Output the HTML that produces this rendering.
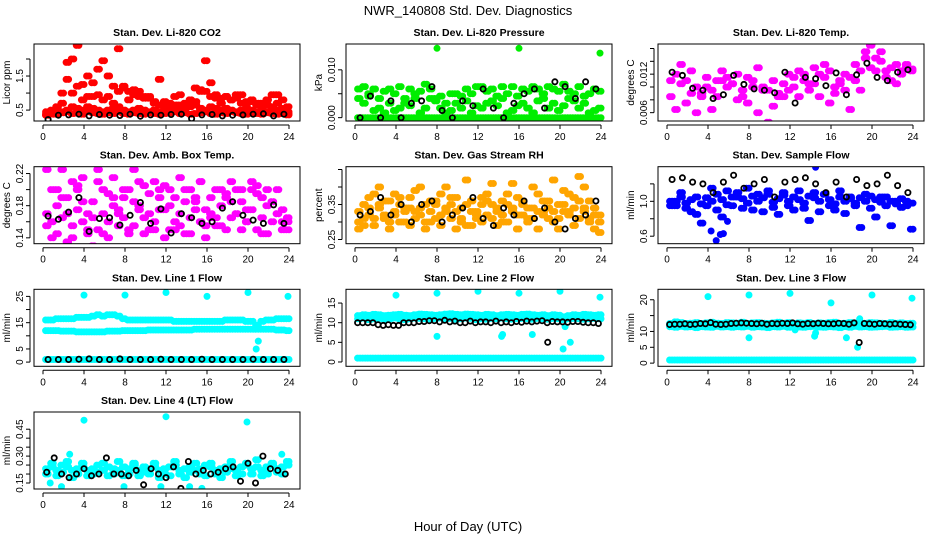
<!DOCTYPE html>
<html><head><meta charset="utf-8"><style>
body{margin:0;background:#fff;}
svg{display:block;font-family:"Liberation Sans",Arial,sans-serif;}
</style></head><body>
<svg id="chart" width="936" height="540" viewBox="0 0 936 540" xmlns="http://www.w3.org/2000/svg">
<rect width="936" height="540" fill="#fff"/>
<text x="468" y="15" font-size="13" text-anchor="middle">NWR_140808 Std. Dev. Diagnostics</text>
<text x="468" y="531" font-size="13" text-anchor="middle">Hour of Day (UTC)</text>
</svg>
<script>
// ---- data ----
const co2A=[0.4,0.38,0.42,0.45,0.5,0.6,0.55,0.5,0.6,0.55,0.5,0.45,0.5,0.55,0.6,0.5,0.45,0.5,0.55,0.5,0.45,0.5,0.45,0.5,0.55,0.6,0.5,0.55,0.6,0.65,0.55,0.5,0.6,0.55,0.5,0.55,0.5,0.45,0.5,0.55,0.5,0.45,0.5,0.45,0.55,0.5,0.45,0.4];
const co2B=[0.45,0.4,0.5,0.7,1.4,1.0,1.2,0.8,0.9,0.9,0.95,0.8,0.9,0.7,1.05,1.2,0.8,1.1,0.9,0.85,0.9,0.75,1.4,0.75,0.7,0.65,0.95,0.7,0.8,0.75,1.1,1.05,0.9,0.85,0.7,0.9,0.8,0.95,0.7,0.75,0.8,0.7,0.7,0.65,0.6,0.95,0.8,0.6];
const co2C=[0.35,0.5,0.6,1.0,1.9,2.0,2.4,1.25,1.5,1.3,1.7,1.95,1.5,1.2,2.3,1.15,1.05,0.95,1.05,0.9,0.85,0.7,0.65,0.6,0.55,0.9,0.65,0.6,0.7,1.15,1.05,1.95,1.3,0.95,0.85,0.9,0.8,0.85,0.95,0.7,0.75,0.65,0.6,0.8,0.95,0.7,0.55,0.45];
const co2D=[0.35,0.4,0.38,0.42,0.45,0.4,0.42,0.38,0.45,0.42,0.4,0.38,0.42,0.4,0.45,0.4,0.38,0.42,0.4,0.38,0.42,0.4,0.38,0.4,0.42,0.45,0.4,0.42,0.38,0.4,0.42,0.45,0.4,0.38,0.42,0.4,0.45,0.42,0.4,0.38,0.42,0.4,0.38,0.42,0.4,0.38,0.4,0.36];
const co2K=[0.22,0.35,0.36,0.38,0.33,0.37,0.35,0.34,0.38,0.32,0.36,0.35,0.37,0.38,0.25,0.36,0.37,0.33,0.35,0.36,0.38,0.39,0.33,0.38];

const prZ=[0,0,0,0,0,0,0,0,0,0,0,0,0,0,0,0,0,0,0,0,0,0,0,0,0,0,0,0,0,0,0,0,0,0,0,0,0,0,0,0,0,0,0,0,0,0,0,0];
const prA=[0.006,0.0065,0.005,0.006,0.004,0.0055,0.006,0.005,0.0065,0.004,0.006,0.005,0.0055,0.007,0.006,0.004,0.0045,0.003,0.005,0.005,0.0045,0.006,0.005,0.0065,0.0065,0.0055,0.006,0.0045,0.0065,0.005,0.0065,0.0045,0.006,0.0055,0.0065,0.006,0.005,0.0065,0.006,0.0055,0.007,0.0055,0.005,0.0065,0.0045,0.005,0.006,0.0055];
const prB=[0.004,0.003,0.0045,0.0015,0.002,0.001,0.003,0.0015,0.002,0.003,0.0025,0.004,0.001,0.002,0.004,0.0035,0.002,0.001,0.0015,0.003,0.002,0.0035,0.001,0.0025,0.002,0.003,0.0035,0.0025,0.004,0.001,0.0015,0.0025,0.003,0.002,0.001,0.0035,0.004,0.002,0.003,0.0015,0.0025,0.004,0.0035,0.002,0.003,0.001,0.0015,0.002];
const prOutH=[8,16,23.9];
const prOutV=[0.0145,0.0145,0.0135];
const prK=[0,0.0045,0,0.0035,0,0.003,0.0035,0.0065,0.0015,0,0.0035,0.0025,0.006,0.002,0,0.003,0.005,0.006,0.002,0.0075,0.0065,0.004,0.0075,0.006];

const tpA=[0.011,0.012,0.0105,0.011,0.0125,0.010,0.009,0.0115,0.0095,0.011,0.0125,0.010,0.0105,0.012,0.0095,0.0115,0.011,0.013,0.010,0.0095,0.011,0.0085,0.0105,0.012,0.0115,0.0125,0.011,0.0105,0.013,0.012,0.0115,0.0125,0.010,0.011,0.012,0.0115,0.0135,0.0125,0.0145,0.013,0.0125,0.014,0.0125,0.013,0.0135,0.0125,0.013,0.0128];
const tpB=[0.0085,0.0065,0.0135,0.0075,0.009,0.006,0.0085,0.010,0.0065,0.0085,0.011,0.0115,0.0105,0.008,0.0085,0.0075,0.010,0.006,0.0095,0.0045,0.007,0.009,0.0085,0.0095,0.010,0.0085,0.012,0.0095,0.0105,0.0085,0.0135,0.0075,0.009,0.0105,0.0095,0.0065,0.011,0.0095,0.0155,0.0165,0.0145,0.0155,0.0115,0.011,0.0105,0.012,0.0135,0.0125];
const tpK=[0.0123,0.0118,0.0098,0.0095,0.0082,0.0088,0.0118,0.0104,0.0097,0.0095,0.0091,0.0123,0.0075,0.0115,0.0113,0.0102,0.0122,0.0088,0.0119,0.0137,0.0115,0.011,0.0123,0.0127];

const abA=[0.17,0.16,0.18,0.165,0.19,0.155,0.175,0.16,0.17,0.185,0.15,0.17,0.16,0.19,0.175,0.165,0.2,0.155,0.18,0.165,0.17,0.16,0.19,0.175,0.18,0.15,0.17,0.185,0.165,0.19,0.16,0.175,0.17,0.155,0.18,0.19,0.165,0.17,0.185,0.16,0.175,0.195,0.165,0.18,0.16,0.17,0.175,0.165];
const abB=[0.155,0.2,0.145,0.19,0.17,0.14,0.2,0.185,0.15,0.165,0.21,0.145,0.195,0.18,0.155,0.2,0.15,0.185,0.21,0.145,0.195,0.15,0.175,0.205,0.15,0.19,0.155,0.2,0.145,0.175,0.21,0.155,0.19,0.165,0.2,0.15,0.185,0.2,0.15,0.175,0.2,0.15,0.19,0.145,0.185,0.2,0.16,0.15];
const abC=[0.225,0.14,0.2,0.225,0.135,0.21,0.205,0.215,0.145,0.13,0.225,0.2,0.14,0.215,0.17,0.19,0.145,0.225,0.175,0.205,0.15,0.21,0.2,0.14,0.2,0.16,0.215,0.145,0.2,0.185,0.21,0.14,0.165,0.2,0.155,0.195,0.21,0.17,0.2,0.16,0.21,0.205,0.145,0.2,0.185,0.17,0.15,0.16];
const abK=[0.167,0.163,0.172,0.19,0.148,0.164,0.165,0.156,0.168,0.184,0.158,0.176,0.146,0.17,0.165,0.158,0.16,0.177,0.185,0.168,0.162,0.158,0.181,0.158];

const rhA=[0.30,0.35,0.32,0.38,0.34,0.31,0.36,0.33,0.37,0.30,0.34,0.39,0.32,0.35,0.30,0.36,0.38,0.33,0.31,0.37,0.34,0.29,0.36,0.32,0.35,0.38,0.31,0.34,0.36,0.30,0.33,0.37,0.35,0.31,0.34,0.38,0.32,0.36,0.30,0.35,0.39,0.33,0.37,0.31,0.34,0.36,0.32,0.30];
const rhB=[0.28,0.31,0.37,0.29,0.40,0.32,0.28,0.38,0.30,0.34,0.29,0.33,0.40,0.28,0.36,0.31,0.29,0.40,0.35,0.28,0.31,0.42,0.29,0.33,0.30,0.36,0.41,0.29,0.32,0.38,0.41,0.28,0.32,0.30,0.40,0.28,0.33,0.31,0.42,0.28,0.33,0.38,0.29,0.43,0.40,0.30,0.28,0.27];
const rhC=[0.33,0.29,0.34,0.31,0.35,0.36,0.30,0.32,0.35,0.33,0.37,0.31,0.34,0.30,0.33,0.35,0.32,0.34,0.37,0.33,0.30,0.35,0.33,0.31,0.37,0.32,0.35,0.33,0.30,0.35,0.34,0.32,0.36,0.34,0.31,0.33,0.36,0.34,0.33,0.31,0.35,0.32,0.34,0.36,0.33,0.31,0.34,0.32];
const rhK=[0.32,0.33,0.37,0.32,0.35,0.30,0.35,0.36,0.30,0.32,0.34,0.37,0.31,0.29,0.34,0.32,0.36,0.31,0.34,0.30,0.28,0.31,0.32,0.36];

const sfA=[0.95,1.0,1.05,0.98,1.02,1.05,0.97,1.04,1.0,1.08,1.02,0.96,1.05,1.1,1.03,0.98,1.06,1.0,1.04,1.08,0.99,1.03,1.07,1.0,1.05,1.02,0.98,1.06,1.04,1.0,1.08,1.02,0.97,1.05,1.0,1.03,0.98,1.04,1.0,1.06,1.02,0.99,1.05,1.0,0.97,1.03,1.0,0.98];
const sfB=[1.0,0.95,1.1,0.92,0.88,0.85,0.75,0.95,1.15,0.9,0.82,1.12,0.95,1.05,0.92,1.15,0.9,1.08,0.88,1.12,0.93,0.85,1.1,0.95,0.9,1.12,0.92,0.78,1.1,0.88,1.08,0.95,0.9,1.12,0.86,1.05,0.95,0.7,1.08,0.92,0.82,1.05,0.95,0.72,1.0,0.93,0.95,0.68];
const sfOutH=[4.3,4.8,5.2,5.5,5.9,14.5];
const sfOutV=[0.66,0.55,0.62,0.63,0.77,1.39];
const sfK=[1.25,1.27,1.22,1.2,1.1,1.22,1.3,1.15,1.2,1.25,1.05,1.22,1.25,1.27,1.2,1.1,1.22,1.05,1.25,1.18,1.2,1.3,1.18,1.1];

const l1U=[16,16,16.5,16.5,16.5,16.5,17,17,17,17.5,18,17.5,18,18,17.5,16.5,16,16,16,16,16,16,16,16,16,15.5,15.5,15.5,15.5,15.5,15.5,15.5,15.5,15.5,15.5,16,16,16,16,15.5,15.5,14,15.5,16,16,16.5,16.5,16.5];
const l1L=[12,12,12,11.8,11.8,11.8,11.5,11.5,11.5,11.5,11.5,11.5,11.8,11.8,11.8,12,12,12,12,12,12.2,12.2,12.2,12.2,12.2,12.2,12.2,12.2,12.2,12.5,12.5,12.5,12.5,12.5,12.5,12.5,12.5,12.5,12.5,12.5,12.5,12.5,12.5,12.5,12.5,12.2,12.2,12];
const l1B=[1,1,1,1,1,1,1,1,1,1,1,1,1,1,1,1,1,1,1,1,1,1,1,1,1,1,1,1,1,1,1,1,1,1,1,1,1,1,1,1,1,1,1,1,1,1,1,1];
const l1OutH=[4,8,12,16,20,23.9,20.8,21];
const l1OutV=[25.5,25.5,26.5,25,26.5,25,5,8];
const l1K=[1,1,1,1.1,1.2,1,1,1.2,1,1,1,1.1,1,1,1,1.1,1,1,1,1,1.1,1,1,1];

const l2U=[11.8,12,11.9,12.1,12,11.8,11.9,12,12.1,11.9,11.8,12,12.2,12.1,12,11.9,12,12.2,12.3,12.1,12,12.2,12.1,12,11.9,12.1,12,11.8,12,12.1,12,11.9,12.1,12.2,12,11.9,12,11.8,12,11.9,11.5,11.8,12,11.9,12.1,12,11.9,12];
const l2L=[11,11.2,10.8,11,11.1,10.9,11,11.2,11,10.8,11,11.2,11.1,11,10.9,11.1,11.2,11,11.1,10.9,11,11.2,11.1,10.8,11,10.9,11.1,11,11.2,11,10.9,11,11.1,11,10.9,11.1,11,10.9,11.1,11,10.8,11,11.1,11,10.9,11,11.1,11];
const l2B=[1,1,1,1,1,1,1,1,1,1,1,1,1,1,1,1,1,1,1,1,1,1,1,1,1,1,1,1,1,1,1,1,1,1,1,1,1,1,1,1,1,1,1,1,1,1,1,1];
const l2OutH=[4,8,12,16,20,23.9,8,14.3,14.4,17.3,20.3,21,20.5];
const l2OutV=[17,17.5,18,17.5,18,16.5,6.5,6.5,7,7,3.3,5,9];
const l2K=[10,10,10,10,9.5,9.3,9.5,9.3,9.3,10,10,10,10.3,10.3,10.5,10.5,10.2,10.6,10.2,10.4,10,10,10.4,10,10.2,10.2,10,10.4,10,10.2,10,10.3,10.1,10.4,10.2,10.4,10.5,10,10.3,10.2,10.2,10.1,10.3,10.3,10.1,10,10,9.8];
const l2KOutH=[18.8];
const l2KOutV=[5];

const l3U=[12.5,13,12.8,12.5,12.6,12.8,12.5,12.7,12.9,12.6,12.5,12.8,12.7,12.6,12.9,12.5,12.7,12.8,12.6,12.5,12.7,12.9,12.6,12.8,12.5,12.7,12.6,12.8,12.5,12.7,12.6,12.8,12.9,12.5,12.6,12.8,12.7,12.5,12.6,12.8,12.7,12.6,12.5,12.8,12.6,12.7,12.5,12.6];
const l3L=[11.5,11.3,11.6,11.4,11.5,11.2,11.5,11.4,11.3,11.6,11.4,11.5,11.3,11.5,11.4,11.6,11.3,11.5,11.4,11.2,11.5,11.4,11.6,11.3,11.5,11.4,11.3,11.5,11.6,11.4,11.3,11.5,11.4,11.2,11.5,11.3,11.6,11.4,11.5,11.3,11.4,11.5,11.6,11.3,11.4,11.5,11.3,11.4];
const l3B=[1,1,1,1,1,1,1,1,1,1,1,1,1,1,1,1,1,1,1,1,1,1,1,1,1,1,1,1,1,1,1,1,1,1,1,1,1,1,1,1,1,1,1,1,1,1,1,1];
const l3OutH=[4,8,12,16,20,23.9,8,14.4,14.5,17.5,18.6,18.8,12.5];
const l3OutV=[21,21.5,22,19,21.5,20.5,8,8.5,9.5,8,5,14,10.5];
const l3K=[12.2,12.3,12.3,12.4,12.2,12.3,12.5,12.4,12.8,12.3,12.2,12.3,12.5,12.6,12.7,12.6,12.5,12.4,12.6,12.3,12.5,12.4,12.6,12.5,12.7,12.4,12.3,12.5,12.4,12.6,12.5,12.4,12.4,12.6,12.5,12.3,12.7,6.5,12.5,12.4,12.3,12.5,12.4,12.3,12.4,12.3,12.2,12.1];

const l4A=[0.23,0.24,0.22,0.25,0.24,0.22,0.23,0.24,0.22,0.23,0.25,0.22,0.24,0.23,0.22,0.24,0.23,0.25,0.22,0.24,0.23,0.24,0.22,0.23,0.24,0.25,0.22,0.23,0.24,0.22,0.23,0.25,0.24,0.22,0.23,0.24,0.23,0.22,0.24,0.25,0.23,0.24,0.22,0.24,0.25,0.23,0.24,0.25];
const l4B=[0.2,0.26,0.19,0.21,0.27,0.18,0.2,0.26,0.19,0.2,0.21,0.26,0.19,0.2,0.27,0.19,0.2,0.26,0.19,0.21,0.2,0.26,0.18,0.2,0.19,0.27,0.2,0.18,0.21,0.26,0.2,0.19,0.26,0.2,0.18,0.21,0.27,0.19,0.2,0.26,0.2,0.28,0.19,0.2,0.26,0.21,0.2,0.27];
const l4OutH=[4,12,19.9,2.6,0.7,1.8,7.9,11.5,14.3,15.5,23.3];
const l4OutV=[0.5,0.52,0.49,0.31,0.15,0.13,0.13,0.13,0.13,0.12,0.31];
const l4K=[0.21,0.29,0.2,0.18,0.2,0.23,0.19,0.2,0.29,0.2,0.2,0.19,0.22,0.14,0.23,0.2,0.18,0.24,0.12,0.27,0.2,0.22,0.2,0.21,0.23,0.24,0.16,0.26,0.15,0.3,0.23,0.22,0.2];

const xTicks=[0,4,8,12,16,20,24];

// ---- drawing ----
const NS="http://www.w3.org/2000/svg";
const svg=document.getElementById('chart');
const colX=[34,346,658], rowY=[44,166.7,289.3,412], BW=266, BH=77;
function mk(tag,attrs,parent){const e=document.createElementNS(NS,tag);for(const k in attrs)e.setAttribute(k,attrs[k]);(parent||svg).appendChild(e);return e;}
function evenHours(n){const h=[];for(let i=0;i<n;i++)h.push((i+0.5)*24/n);return h;}

function panel(p){
  const L=colX[p.col], T=rowY[p.row];
  const g=mk('g',{});
  
  
  const xs=h=>L+9+h/24*246;
  const ys=v=>T+BH-(v-p.ymin)/(p.ymax-p.ymin)*BH;
  const t=mk('text',{x:L+BW/2,y:T-8,'font-size':10.5,'font-weight':'bold','text-anchor':'middle'},g);
  t.textContent=p.title;
  
  
  const clip=mk('clipPath',{id:'c'+p.name},g);
  mk('rect',{x:L,y:T,width:BW,height:BH},clip);
  const pts=mk('g',{'clip-path':'url(#c'+p.name+')'},g);
  p.series.forEach(s=>{
    const n=s.v.length;
    const hrs=s.h||evenHours(n);
    const black=(s.c==='#000');
    const passes=(!s.h && !black)?[0,12/n]:[0];
    passes.forEach(off=>{
      s.v.forEach((v,i)=>{
        const c=mk('circle',{cx:xs(hrs[i]+off).toFixed(1),cy:ys(v).toFixed(1),r:black?2.6:2.8,fill:black?'none':s.c,stroke:s.c,'stroke-width':black?1.8:1.4},pts);
        
        
      });
    });
  });
  const box=mk('rect',{x:L,y:T,width:BW,height:BH,fill:'none',stroke:'#000','stroke-width':1},g);
  
  
  mk('line',{x1:xs(0),x2:xs(24),y1:T+BH+4,y2:T+BH+4,stroke:'#000'},g);
  xTicks.forEach(h=>{
    mk('line',{x1:xs(h),x2:xs(h),y1:T+BH+4,y2:T+BH+8,stroke:'#000'},g);
    const tl=mk('text',{x:xs(h),y:T+BH+19,'font-size':10,'text-anchor':'middle'},g);
    tl.textContent=h;
    
    
  });
  const yt=p.yt;
  mk('line',{x1:L-4,x2:L-4,y1:ys(yt[0]),y2:ys(yt[yt.length-1]),stroke:'#000'},g);
  yt.forEach(v=>{
    mk('line',{x1:L-8,x2:L-4,y1:ys(v),y2:ys(v),stroke:'#000'},g);
  });
  p.yl.forEach(v=>{
    const y=ys(parseFloat(v));
    const tl=mk('text',{x:L-11,y:y,'font-size':10,'text-anchor':'middle',transform:'rotate(-90 '+(L-11)+' '+y+')'},g);
    tl.textContent=v;
    
    
  });
  const yl=mk('text',{x:L-24,y:T+BH/2,'font-size':10,'text-anchor':'middle',transform:'rotate(-90 '+(L-24)+' '+(T+BH/2)+')'},g);
  yl.textContent=p.ylab;
  
  
}

const RED='#ff0000',GRN='#00ee00',MAG='#ff00ff',BLU='#0000ff',CYN='#00ffff',ORG='#ffa500',BLK='#000';
panel({name:'co2',col:0,row:0,title:'Stan. Dev. Li-820 CO2',ylab:'Licor ppm',ymin:0.18,ymax:2.44,yt:[0.5,1,1.5,2],yl:['0.5','1.5'],
  series:[{v:co2D,c:RED},{v:co2A,c:RED},{v:co2B,c:RED},{v:co2C,c:RED},{v:co2K,c:BLK}]});
panel({name:'pressure',col:1,row:0,title:'Stan. Dev. Li-820 Pressure',ylab:'kPa',ymin:-0.0007,ymax:0.0154,yt:[0,0.005,0.01],yl:['0.000','0.010'],
  series:[{v:prZ,c:GRN},{v:prA,c:GRN},{v:prB,c:GRN},{v:prOutV,h:prOutH,c:GRN},{v:prK,c:BLK}]});
panel({name:'temp',col:2,row:0,title:'Stan. Dev. Li-820 Temp.',ylab:'degrees C',ymin:0.0047,ymax:0.0167,yt:[0.006,0.008,0.01,0.012,0.014,0.016],yl:['0.006','0.012'],
  series:[{v:tpA,c:MAG},{v:tpB,c:MAG},{v:tpK,c:BLK}]});
panel({name:'ambtemp',col:0,row:1,title:'Stan. Dev. Amb. Box Temp.',ylab:'degrees C',ymin:0.1327,ymax:0.2285,yt:[0.14,0.16,0.18,0.2,0.22],yl:['0.14','0.18','0.22'],
  series:[{v:abA,c:MAG},{v:abB,c:MAG},{v:abC,c:MAG},{v:abK,c:BLK}]});
panel({name:'rh',col:1,row:1,title:'Stan. Dev. Gas Stream RH',ylab:'percent',ymin:0.238,ymax:0.458,yt:[0.25,0.3,0.35,0.4,0.45],yl:['0.25','0.35'],
  series:[{v:rhA,c:ORG},{v:rhB,c:ORG},{v:rhC,c:ORG},{v:rhK,c:BLK}]});
panel({name:'sampleflow',col:2,row:1,title:'Stan. Dev. Sample Flow',ylab:'ml/min',ymin:0.514,ymax:1.397,yt:[0.6,0.8,1.0,1.2],yl:['0.6','1.0'],
  series:[{v:sfA,c:BLU},{v:sfB,c:BLU},{v:sfOutV,h:sfOutH,c:BLU},{v:sfK,c:BLK}]});
panel({name:'line1',col:0,row:2,title:'Stan. Dev. Line 1 Flow',ylab:'ml/min',ymin:-1.6,ymax:27.7,yt:[0,5,10,15,20,25],yl:['0','5','15','25'],
  series:[{v:l1U,c:CYN},{v:l1L,c:CYN},{v:l1B,c:CYN},{v:l1OutV,h:l1OutH,c:CYN},{v:l1K,c:BLK}]});
panel({name:'line2',col:1,row:2,title:'Stan. Dev. Line 2 Flow',ylab:'ml/min',ymin:-1.1,ymax:18.5,yt:[0,5,10,15],yl:['0','5','10','15'],
  series:[{v:l2U,c:CYN},{v:l2L,c:CYN},{v:l2B,c:CYN},{v:l2OutV,h:l2OutH,c:CYN},{v:l2K,c:BLK},{v:l2KOutV,h:l2KOutH,c:BLK}]});
panel({name:'line3',col:2,row:2,title:'Stan. Dev. Line 3 Flow',ylab:'ml/min',ymin:-1.0,ymax:23.3,yt:[0,5,10,15,20],yl:['0','5','10','20'],
  series:[{v:l3U,c:CYN},{v:l3L,c:CYN},{v:l3B,c:CYN},{v:l3OutV,h:l3OutH,c:CYN},{v:l3K,c:BLK}]});
panel({name:'line4',col:0,row:3,title:'Stan. Dev. Line 4 (LT) Flow',ylab:'ml/min',ymin:0.1165,ymax:0.546,yt:[0.15,0.2,0.25,0.3,0.35,0.4,0.45],yl:['0.15','0.30','0.45'],
  series:[{v:l4A,c:CYN},{v:l4B,c:CYN},{v:l4OutV,h:l4OutH,c:CYN},{v:l4K,c:BLK}]});
</script>
</body></html>
